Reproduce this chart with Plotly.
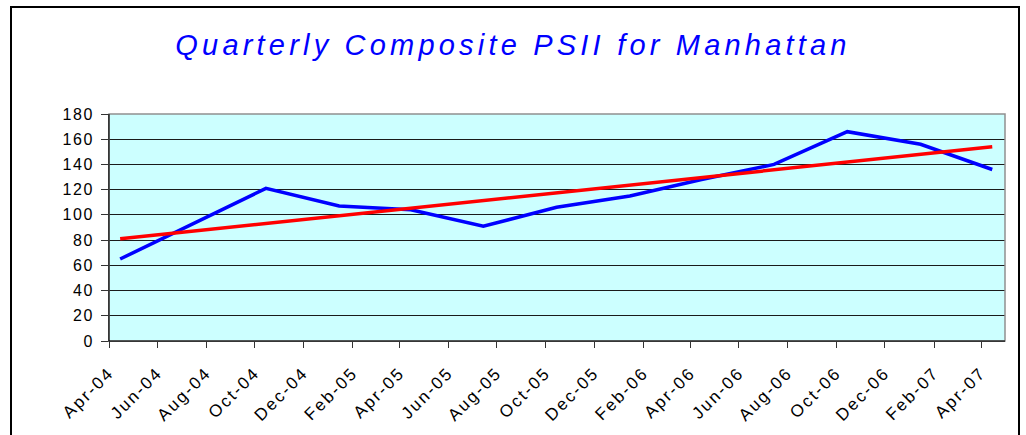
import plotly.graph_objects as go

# ---- data ----
dates = ["2004-04-15", "2004-07-15", "2004-10-15", "2005-01-15", "2005-04-15",
         "2005-07-15", "2005-10-15", "2006-01-15", "2006-04-15", "2006-07-15",
         "2006-10-15", "2007-01-15", "2007-04-15"]
psii = [65, 93, 121, 107, 104, 91, 106, 115, 128, 140, 166, 156, 136]

trend_dates = ["2004-04-15", "2007-04-15"]
trend_values = [81, 154]

tick_dates = ["2004-04-01", "2004-06-01", "2004-08-01", "2004-10-01", "2004-12-01",
              "2005-02-01", "2005-04-01", "2005-06-01", "2005-08-01", "2005-10-01",
              "2005-12-01", "2006-02-01", "2006-04-01", "2006-06-01", "2006-08-01",
              "2006-10-01", "2006-12-01", "2007-02-01", "2007-04-01"]
tick_labels = ["Apr-04", "Jun-04", "Aug-04", "Oct-04", "Dec-04", "Feb-05", "Apr-05",
               "Jun-05", "Aug-05", "Oct-05", "Dec-05", "Feb-06", "Apr-06", "Jun-06",
               "Aug-06", "Oct-06", "Dec-06", "Feb-07", "Apr-07"]
y_ticks = [0, 20, 40, 60, 80, 100, 120, 140, 160, 180]

title_text = "Quarterly Composite PSII for Manhattan"

FONT = "Liberation Sans, Arial, sans-serif"

fig = go.Figure()
fig.add_trace(go.Scatter(x=dates, y=psii, mode="lines",
                         line=dict(color="#0000FF", width=3.5), showlegend=False))
fig.add_trace(go.Scatter(x=trend_dates, y=trend_values, mode="lines",
                         line=dict(color="#FF0000", width=3.5), showlegend=False))

spaced_ticks = ['<span style="letter-spacing:2.2px">' + t + '</span>' for t in tick_labels]
spaced_y = ['<span style="letter-spacing:1.5px">' + str(v) + '</span>' for v in y_ticks]

fig.update_layout(
    width=1026, height=435,
    margin=dict(l=109, r=21, t=114, b=94, autoexpand=False),
    paper_bgcolor="white",
    plot_bgcolor="#CCFFFF",
    title=dict(text='<span style="letter-spacing:4.2px">' + title_text + '</span>',
               x=0.5, xanchor="center", xref="container",
               y=1 - 45 / 435, yref="container", yanchor="middle"),
    title_font=dict(family=FONT, size=29, color="#0000FF", style="italic"),
    font=dict(family=FONT, color="black"),
    xaxis=dict(type="date", range=["2004-04-01", "2007-05-01"],
               tickmode="array", tickvals=tick_dates, ticktext=spaced_ticks,
               tickangle=-45, tickfont=dict(size=17, color="black"),
               ticks="outside", ticklen=6, tickcolor="#333",
               ticklabelstandoff=8, automargin=False,
               showgrid=False, showline=True, linecolor="black", linewidth=1,
               zeroline=False),
    yaxis=dict(range=[0, 180], tickmode="array", tickvals=y_ticks, ticktext=spaced_y,
               tickfont=dict(size=16, color="black"),
               ticks="outside", ticklen=7, tickcolor="#333",
               ticklabelstandoff=4, automargin=False,
               showgrid=True, gridcolor="#1a1a1a", gridwidth=1,
               showline=True, linecolor="black", linewidth=1, zeroline=False),
    shapes=[
        dict(type="rect", xref="paper", yref="paper", x0=0, x1=1, y0=0, y1=1,
             line=dict(color="#909090", width=1.5), layer="above"),
        dict(type="line", xref="paper", yref="paper", x0=0, x1=0, y0=0, y1=1,
             line=dict(color="black", width=1), layer="above"),
        dict(type="line", xref="paper", yref="paper", x0=0, x1=1, y0=0, y1=0,
             line=dict(color="black", width=1), layer="above"),
        dict(type="rect", xref="paper", yref="paper",
             x0=(11 - 109) / 896, x1=(1019 - 109) / 896,
             y0=(341 - 445) / 227, y1=(341 - 7) / 227,
             line=dict(color="black", width=2), layer="above"),
    ],
)

fig.write_html("out.html", config={"displayModeBar": False},
               post_script="document.body.style.margin='0';document.body.style.overflow='hidden';")
